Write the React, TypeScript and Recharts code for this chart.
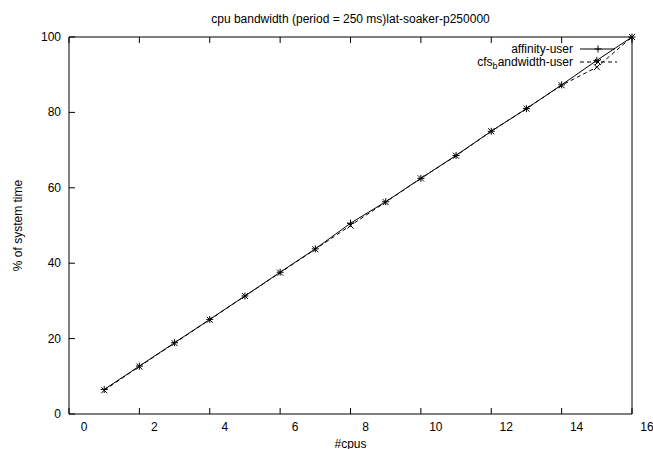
import { LineChart, Line, XAxis, YAxis, Legend } from "recharts"

const cpus = [1, 2, 3, 4, 5, 6, 7, 8, 9, 10, 11, 12, 13, 14, 15, 16]
const affinityUser = [6.5, 12.7, 18.9, 25.1, 31.3, 37.6, 43.8, 50.6, 56.3, 62.5, 68.6, 75.0, 81.0, 87.3, 93.8, 100]
const cfsBandwidthUser = [6.3, 12.6, 18.8, 25.0, 31.3, 37.5, 43.7, 50.0, 56.2, 62.5, 68.5, 75.0, 81.0, 87.2, 92.0, 100]
const xTicks = [0, 2, 4, 6, 8, 10, 12, 14, 16]
const yTicks = [0, 20, 40, 60, 80, 100]

const data = cpus.map((c, i) => ({ cpus: c, affinity: affinityUser[i], cfs: cfsBandwidthUser[i] }))

const font = { fontFamily: "'Liberation Sans', Arial, sans-serif", fontSize: 12, fill: "#000" }

const PlusDot = (props: any) => {
    const { cx, cy, index } = props
    if (cx == null || cy == null) return <g key={`p-${index}`} />
    return <path key={`p-${index}`} d={`M${cx - 3.5},${cy}h7M${cx},${cy - 3.5}v7`} stroke="#000" strokeWidth={1} fill="none" />
}

const CrossDot = (props: any) => {
    const { cx, cy, index } = props
    if (cx == null || cy == null) return <g key={`x-${index}`} />
    return <path key={`x-${index}`} d={`M${cx - 3},${cy - 3}l6,6M${cx - 3},${cy + 3}l6,-6`} stroke="#000" strokeWidth={1} fill="none" />
}

const BottomTick = ({ x, y, payload }: any) => (
    <g>
        <line x1={x} y1={y} x2={x} y2={y - 6} stroke="#000" />
        <text x={x + 15} y={y + 17} textAnchor="middle" {...font}>{payload.value}</text>
    </g>
)
const TopTick = ({ x, y }: any) => <line x1={x} y1={y} x2={x} y2={y + 6} stroke="#000" />
const LeftTick = ({ x, y, payload }: any) => (
    <g>
        <line x1={x} y1={y} x2={x + 6} y2={y} stroke="#000" />
        <text x={x - 8} y={y + 4} textAnchor="end" {...font}>{payload.value}</text>
    </g>
)
const RightTick = ({ x, y }: any) => <line x1={x} y1={y} x2={x - 6} y2={y} stroke="#000" />

const LegendBox = () => (
    <div style={{ fontFamily: "'Liberation Sans', Arial, sans-serif", fontSize: 12, color: "#000", lineHeight: "12px" }}>
        <div style={{ display: "flex", justifyContent: "flex-end", alignItems: "center", height: 13 }}>
            <span>affinity-user</span>
            <svg width={44} height={12} style={{ marginLeft: 7 }}>
                <line x1={0} y1={6} x2={35} y2={6} stroke="#000" />
                <path d="M14.5,6h7M18,2.5v7" stroke="#000" fill="none" />
            </svg>
        </div>
        <div style={{ display: "flex", justifyContent: "flex-end", alignItems: "center", height: 13 }}>
            <span>
                cfs<sub style={{ fontSize: 9, verticalAlign: "-3px", lineHeight: 0 }}>b</sub>andwidth-user
            </span>
            <svg width={44} height={12} style={{ marginLeft: 7 }}>
                <line x1={0} y1={6} x2={37} y2={6} stroke="#000" strokeDasharray="4 3" />
                <path d="M15,3l6,6M15,9l6,-6" stroke="#000" fill="none" />
            </svg>
        </div>
    </div>
)

export default function App() {
    return (
        <div style={{ position: "absolute", left: 0, top: 0 }}>
            <LineChart width={653} height={449} data={data} margin={{ top: 0, right: 0, bottom: 0, left: 0 }}>
                <XAxis
                    dataKey="cpus"
                    type="number"
                    domain={[0, 16]}
                    ticks={xTicks}
                    interval={0}
                    height={35}
                    tickSize={0}
                    tickMargin={0}
                    tickLine={false}
                    axisLine={{ stroke: "#000" }}
                    tick={<BottomTick />}
                    label={{ value: "#cpus", position: "insideBottom", offset: 1, ...font }}
                />
                <XAxis
                    xAxisId="top"
                    orientation="top"
                    dataKey="cpus"
                    type="number"
                    domain={[0, 16]}
                    ticks={xTicks}
                    interval={0}
                    height={37}
                    tickSize={0}
                    tickMargin={0}
                    tickLine={false}
                    axisLine={{ stroke: "#000" }}
                    tick={<TopTick />}
                    label={{ value: "cpu bandwidth (period = 250 ms)lat-soaker-p250000", position: "insideTop", offset: 14, ...font }}
                />
                <YAxis
                    type="number"
                    domain={[0, 100]}
                    ticks={yTicks}
                    interval={0}
                    width={69}
                    tickSize={0}
                    tickMargin={0}
                    tickLine={false}
                    axisLine={{ stroke: "#000" }}
                    tick={<LeftTick />}
                    label={{ value: "% of system time", angle: -90, position: "insideLeft", offset: 18, ...font, style: { textAnchor: "middle" } }}
                />
                <YAxis
                    yAxisId="right"
                    orientation="right"
                    type="number"
                    domain={[0, 100]}
                    ticks={yTicks}
                    interval={0}
                    width={21}
                    tickSize={0}
                    tickMargin={0}
                    tickLine={false}
                    axisLine={{ stroke: "#000" }}
                    tick={<RightTick />}
                />
                <Legend
                    layout="horizontal"
                    verticalAlign="middle"
                    align="center"
                    content={<LegendBox />}
                    wrapperStyle={{ left: 300, top: 42, width: 324, height: "auto" }}
                />
                <Line
                    dataKey="affinity"
                    name="affinity-user"
                    type="linear"
                    stroke="#000"
                    strokeWidth={1}
                    dot={PlusDot}
                    activeDot={false}
                    isAnimationActive={false}
                />
                <Line
                    dataKey="cfs"
                    name="cfs_bandwidth-user"
                    type="linear"
                    stroke="#000"
                    strokeWidth={1}
                    strokeDasharray="4 3"
                    dot={CrossDot}
                    activeDot={false}
                    isAnimationActive={false}
                />
            </LineChart>
        </div>
    )
}
